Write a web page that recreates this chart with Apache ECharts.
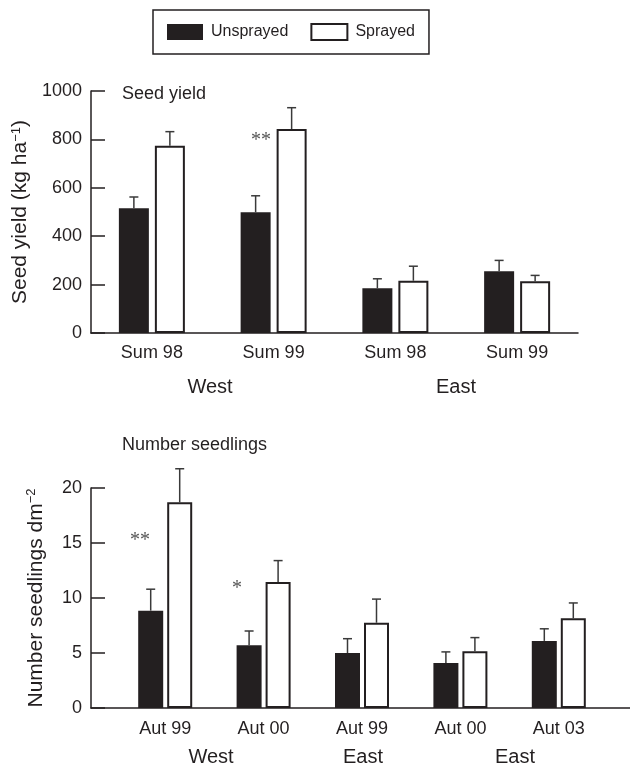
<!DOCTYPE html>
<html>
<head>
<meta charset="utf-8">
<script src="https://cdn.jsdelivr.net/npm/echarts@6/dist/echarts.min.js"></script>
<style>html,body{margin:0;padding:0;background:#fff}#chart{width:630px;height:769px}</style>
</head>
<body>
<div id="chart"></div>
<script>
// top panel: seed yield (kg/ha)
var yieldCats = ['Sum 98', 'Sum 99', 'Sum 98', 'Sum 99'];
var yieldUnsprayed = [515, 499, 185, 255];
var yieldUnsprayedErr = [562, 567, 224, 300];
var yieldSprayed = [774, 843, 216, 214];
var yieldSprayedErr = [832, 931, 276, 238];
var yieldTicks = [0, 200, 400, 600, 800, 1000];

// bottom panel: number of seedlings per dm2
var seedCats = ['Aut 99', 'Aut 00', 'Aut 99', 'Aut 00', 'Aut 03'];
var seedUnsprayed = [8.85, 5.7, 5.0, 4.1, 6.1];
var seedUnsprayedErr = [10.8, 7.0, 6.3, 5.1, 7.2];
var seedSprayed = [18.7, 11.45, 7.75, 5.15, 8.15];
var seedSprayedErr = [21.75, 13.4, 9.9, 6.4, 9.55];
var seedTicks = [0, 5, 10, 15, 20];

var ink = '#231f20';
var font = 'Liberation Sans';

// error bar drawn above a bar, shifted left/right of the category centre
function errBars(vals, tops, offset, xi, yi) {
    return {
        type: 'custom',
        xAxisIndex: xi,
        yAxisIndex: yi,
        silent: true,
        z: 5,
        encode: { x: 0, y: 1 },
        data: vals.map(function (v, i) { return [i, v, tops[i]]; }),
        renderItem: function (params, api) {
            var lo = api.coord([api.value(0), api.value(1)]);
            var hi = api.coord([api.value(0), api.value(2)]);
            var x = lo[0] + offset;
            return {
                type: 'group',
                children: [
                    { type: 'line', shape: { x1: x, y1: lo[1], x2: x, y2: hi[1] }, style: { stroke: '#3a3a3a', lineWidth: 1.5 } },
                    { type: 'line', shape: { x1: x - 4.5, y1: hi[1], x2: x + 4.5, y2: hi[1] }, style: { stroke: '#3a3a3a', lineWidth: 1.5 } }
                ]
            };
        }
    };
}

function valueAxis(ticks, gi, name, gap) {
    return {
        type: 'value',
        gridIndex: gi,
        min: ticks[0],
        max: ticks[ticks.length - 1],
        interval: ticks[1] - ticks[0],
        axisLine: { show: true, lineStyle: { color: ink, width: 1.5 } },
        axisTick: { show: true, inside: true, length: 14, lineStyle: { color: ink, width: 1.5 } },
        axisLabel: { color: ink, fontSize: 18, fontFamily: font, margin: 9, formatter: function (v) { return String(v); } },
        splitLine: { show: false },
        name: name,
        nameLocation: 'middle',
        nameRotate: 90,
        nameGap: gap,
        nameTextStyle: {
            color: ink, fontSize: 21, fontFamily: font,
            rich: { sup: { fontSize: 13, fontFamily: font, color: ink, verticalAlign: 'top', padding: [0, 0, 9, 0] } }
        }
    };
}

function label(txt, x, y) {
    return { type: 'text', x: x, y: y, style: { text: txt, fill: ink, fontSize: 20, fontFamily: font, align: 'center', verticalAlign: 'middle' } };
}

function stars(txt, x, y) {
    return { type: 'text', x: x, y: y, style: { text: txt, fill: '#555', fontSize: 20, fontFamily: 'Liberation Serif', align: 'center', verticalAlign: 'middle' } };
}

var unsprayedStyle = { color: ink };
var sprayedStyle = { color: '#fff', borderColor: ink, borderWidth: 2 };

var chart = echarts.init(document.getElementById('chart'));
var option = {
    backgroundColor: '#fff',
    animation: false,
    title: [
        { text: 'Seed yield', left: 117, top: 80, textStyle: { color: ink, fontSize: 18, fontWeight: 'normal', fontFamily: font } },
        { text: 'Number seedlings', left: 117, top: 431, textStyle: { color: ink, fontSize: 18, fontWeight: 'normal', fontFamily: font } }
    ],
    legend: {
        left: 153,
        top: 10,
        padding: [13, 14, 13, 14],
        borderColor: ink,
        borderWidth: 1.5,
        itemWidth: 36,
        itemHeight: 16,
        itemGap: 22,
        selectedMode: false,
        textStyle: { color: ink, fontSize: 16, fontFamily: font, padding: [0, 0, 0, 3] },
        data: [
            { name: 'Unsprayed', icon: 'rect' },
            { name: 'Sprayed', icon: 'rect' }
        ]
    },
    grid: [
        { left: 91, right: 52, top: 91, bottom: 436 },
        { left: 91, right: 0, top: 488, bottom: 61 },
        { left: 116, width: 492, top: 488, bottom: 61 }
    ],
    xAxis: [
        {
            type: 'category', gridIndex: 0, data: yieldCats,
            axisLine: { lineStyle: { color: ink, width: 1.5 } },
            axisTick: { show: false },
            axisLabel: { color: ink, fontSize: 18, fontFamily: font, margin: 11 }
        },
        {
            type: 'value', gridIndex: 1, min: 0, max: 1,
            axisLine: { show: true, lineStyle: { color: ink, width: 1.5 } },
            axisTick: { show: false }, axisLabel: { show: false }, splitLine: { show: false }
        },
        {
            type: 'category', gridIndex: 2, data: seedCats,
            axisLine: { show: false },
            axisTick: { show: false },
            axisLabel: { color: ink, fontSize: 18, fontFamily: font, margin: 12 }
        }
    ],
    yAxis: [
        valueAxis(yieldTicks, 0, 'Seed yield (kg ha{sup|−1})', 58),
        valueAxis(seedTicks, 1, 'Number seedlings dm{sup|−2}', 44),
        { type: 'value', gridIndex: 2, min: seedTicks[0], max: seedTicks[seedTicks.length - 1], show: false }
    ],
    series: [
        { name: 'Unsprayed', type: 'bar', xAxisIndex: 0, yAxisIndex: 0, barWidth: 30, barGap: '20%', itemStyle: unsprayedStyle, data: yieldUnsprayed },
        { name: 'Sprayed', type: 'bar', xAxisIndex: 0, yAxisIndex: 0, barWidth: 30, barGap: '20%', itemStyle: sprayedStyle, data: yieldSprayed },
        errBars(yieldUnsprayed, yieldUnsprayedErr, -18, 0, 0),
        errBars(yieldSprayed, yieldSprayedErr, 18, 0, 0),
        { name: 'Unsprayed', type: 'bar', xAxisIndex: 2, yAxisIndex: 2, barWidth: 25, barGap: '16%', itemStyle: unsprayedStyle, data: seedUnsprayed },
        { name: 'Sprayed', type: 'bar', xAxisIndex: 2, yAxisIndex: 2, barWidth: 25, barGap: '16%', itemStyle: sprayedStyle, data: seedSprayed },
        errBars(seedUnsprayed, seedUnsprayedErr, -14.5, 2, 2),
        errBars(seedSprayed, seedSprayedErr, 14.5, 2, 2)
    ],
    graphic: [
        // region labels under the category labels
        label('West', 210, 387),
        label('East', 456, 387),
        label('West', 211, 757),
        label('East', 363, 757),
        label('East', 515, 757),
        // significance stars
        stars('**', 261, 141),
        stars('**', 140, 541),
        stars('*', 237, 589)
    ]
};
chart.setOption(option);
</script>
</body>
</html>
